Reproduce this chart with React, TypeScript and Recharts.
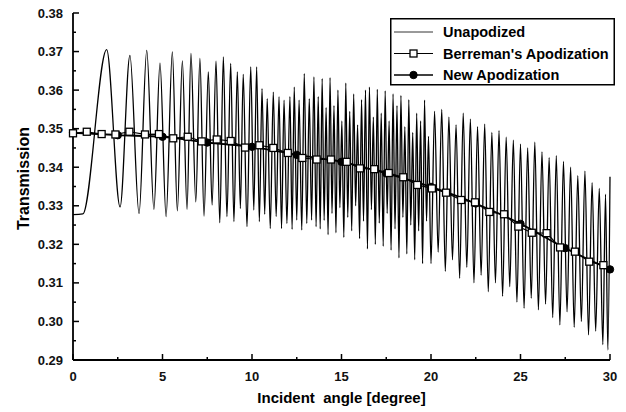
import { Label, Legend, Line, LineChart, XAxis, YAxis } from "recharts";

const FONT = '"Liberation Sans", Arial, sans-serif';

// unapodized transmission: [angle, value] at each fringe peak / trough
const unapSlowFringes: [number, number][] = [
  [0, 0.3277], [0.55, 0.3279], [1.88, 0.3705], [2.63, 0.3297], [3.18, 0.369],
  [3.69, 0.328], [4.12, 0.3703], [4.52, 0.3291], [4.86, 0.367], [5.2, 0.3272],
  [5.55, 0.3699], [5.83, 0.3287], [6.11, 0.3676], [6.37, 0.3291], [6.59, 0.3695],
  [6.86, 0.331], [7.09, 0.3682], [7.32, 0.3273], [7.56, 0.3647], [7.77, 0.3302],
  [7.99, 0.3675], [8.2, 0.3256], [8.4, 0.3686], [8.6, 0.3272], [8.81, 0.3669],
  [8.99, 0.3259], [9.18, 0.3647], [9.35, 0.3293], [9.51, 0.3641], [9.72, 0.3246],
  [9.93, 0.366], [10.1, 0.3289], [10.26, 0.366], [10.41, 0.3259], [10.56, 0.3604],
  [10.71, 0.3278], [10.85, 0.3578], [11.02, 0.3241], [11.19, 0.3595], [11.35, 0.3272],
  [11.51, 0.3583], [11.65, 0.3241], [11.79, 0.3574], [11.95, 0.3254], [12.12, 0.3583],
  [12.24, 0.3239], [12.36, 0.3608], [12.5, 0.3263], [12.63, 0.3574], [12.78, 0.3237],
  [12.92, 0.3643], [13.06, 0.3254], [13.2, 0.3578], [13.33, 0.3263], [13.46, 0.3634],
  [13.58, 0.3246], [13.7, 0.3583],
];

const unapDenseFringes: [number, number][] = [
  [13.81, 0.324], [13.92, 0.363], [14.03, 0.3262], [14.14, 0.3555], [14.25, 0.3225],
  [14.36, 0.3632], [14.47, 0.328], [14.58, 0.356], [14.69, 0.323], [14.8, 0.36],
  [14.91, 0.3295], [15.02, 0.352], [15.13, 0.3218], [15.24, 0.3618], [15.35, 0.327],
  [15.46, 0.3545], [15.57, 0.3235], [15.68, 0.359], [15.79, 0.33], [15.9, 0.351],
  [16.01, 0.3215], [16.12, 0.3575], [16.23, 0.326], [16.34, 0.36], [16.45, 0.3188],
  [16.56, 0.3608], [16.67, 0.329], [16.78, 0.353], [16.89, 0.32], [17.0, 0.3602],
  [17.11, 0.3255], [17.22, 0.354], [17.33, 0.3195], [17.44, 0.3598], [17.55, 0.328],
  [17.66, 0.352], [17.77, 0.3185], [17.88, 0.359], [17.99, 0.324], [18.1, 0.356],
  [18.21, 0.3165], [18.32, 0.3586], [18.43, 0.327], [18.54, 0.3505], [18.65, 0.3175],
  [18.76, 0.3575], [18.87, 0.325], [18.98, 0.349], [19.09, 0.316], [19.2, 0.354],
  [19.31, 0.3235], [19.42, 0.352], [19.53, 0.315], [19.64, 0.3574], [19.75, 0.326],
  [19.86, 0.348],
];

const unapTailFringes: [number, number][] = [
  [20.0, 0.315], [20.2, 0.3545], [20.4, 0.318], [20.6, 0.355], [20.8, 0.313],
  [21.0, 0.353], [21.2, 0.316], [21.4, 0.351], [21.6, 0.3112], [21.8, 0.354],
  [22.0, 0.314], [22.2, 0.3525], [22.4, 0.31], [22.6, 0.3505], [22.8, 0.312],
  [23.0, 0.3512], [23.2, 0.3077], [23.4, 0.349], [23.6, 0.31], [23.8, 0.3495],
  [24.0, 0.3065], [24.2, 0.3478], [24.4, 0.309], [24.6, 0.347], [24.8, 0.305],
  [25.0, 0.346], [25.2, 0.3034], [25.4, 0.345], [25.6, 0.306], [25.8, 0.3465],
  [26.0, 0.303], [26.2, 0.344], [26.4, 0.3045], [26.6, 0.3425], [26.8, 0.301],
  [27.0, 0.343], [27.2, 0.2991], [27.4, 0.3415], [27.6, 0.3025], [27.8, 0.34],
  [28.0, 0.2985], [28.2, 0.3378], [28.4, 0.3], [28.6, 0.339], [28.8, 0.2965],
  [29.0, 0.336], [29.2, 0.2975], [29.4, 0.3345], [29.6, 0.294], [29.75, 0.333],
  [29.88, 0.2926], [30.0, 0.3375],
];

const berreman: [number, number][] = [
  [0, 0.3488], [0.77, 0.3492], [1.6, 0.3486], [2.37, 0.3485], [3.15, 0.3492],
  [4.02, 0.3485], [4.8, 0.3486], [5.6, 0.3475], [6.41, 0.3479], [7.19, 0.3467],
  [8.03, 0.3472], [8.81, 0.3468], [9.61, 0.3451], [10.41, 0.3457], [11.19, 0.345],
  [12.0, 0.3437], [12.81, 0.3424], [13.61, 0.342], [14.41, 0.342], [15.29, 0.3414],
  [16.03, 0.3397], [16.83, 0.3395], [17.64, 0.3385], [18.45, 0.3374], [19.23, 0.3354],
  [20.05, 0.3345], [20.84, 0.3334], [21.68, 0.3315], [22.46, 0.3309], [23.26, 0.3284],
  [24.08, 0.3278], [24.88, 0.3246], [25.63, 0.323], [26.46, 0.3229], [27.21, 0.3192],
  [28.04, 0.3181], [28.84, 0.3155], [29.63, 0.3146],
];

const newApod: [number, number][] = [
  [0, 0.3489], [2.5, 0.3483], [5, 0.3479], [7.5, 0.3464], [10, 0.3453],
  [12.5, 0.3432], [15, 0.3414], [17.5, 0.3384], [20, 0.3349], [22.5, 0.3306],
  [25, 0.3253], [27.5, 0.319], [30, 0.3135],
];

const xTicks = [0, 2.5, 5, 7.5, 10, 12.5, 15, 17.5, 20, 22.5, 25, 27.5, 30];
const yTicks = [
  0.29, 0.295, 0.3, 0.305, 0.31, 0.315, 0.32, 0.325, 0.33, 0.335,
  0.34, 0.345, 0.35, 0.355, 0.36, 0.365, 0.37, 0.375, 0.38,
];

const toPoints = (rows: [number, number][]) =>
  rows.map(([angle, value]) => ({ angle, value }));

const unapData = toPoints([...unapSlowFringes, ...unapDenseFringes, ...unapTailFringes]);
const berremanData = toPoints(berreman);
const newData = toPoints(newApod);

function XTick({ x, y, payload }: any) {
  const v = payload.value;
  const major = v % 5 === 0;
  const axisY = y - 12;
  return (
    <g>
      <line x1={x} x2={x} y1={axisY} y2={axisY - (major ? 6 : 3)} stroke="#000" strokeWidth={1.5} />
      {major && (
        <text x={x} y={y} dy="0.71em" textAnchor="middle" fontSize={13} fontWeight="bold" fontFamily={FONT} fill="#111">
          {v}
        </text>
      )}
    </g>
  );
}

function YTick({ x, y, payload }: any) {
  const v = payload.value;
  const major = Math.round(v * 1000) % 10 === 0;
  const axisX = x + 10;
  return (
    <g>
      <line x1={axisX} x2={axisX + (major ? 6 : 3)} y1={y} y2={y} stroke="#000" strokeWidth={1.5} />
      {major && (
        <text x={x} y={y} dy="0.35em" textAnchor="end" fontSize={13} fontWeight="bold" fontFamily={FONT} fill="#111">
          {v.toFixed(2)}
        </text>
      )}
    </g>
  );
}

function SquareDot({ cx, cy }: any) {
  return <rect x={cx - 3.5} y={cy - 3.5} width={7} height={7} fill="#fff" stroke="#000" strokeWidth={1.3} />;
}

function CircleDot({ cx, cy }: any) {
  return <circle cx={cx} cy={cy} r={3.7} fill="#000" stroke="#000" />;
}

function LegendBox() {
  const rows = [
    { label: "Unapodized", marker: "none", width: 0.8 },
    { label: "Berreman's Apodization", marker: "square", width: 1.1 },
    { label: "New Apodization", marker: "circle", width: 1.6 },
  ];
  return (
    <svg width={225} height={68} style={{ display: "block" }}>
      <rect x={0.75} y={0.75} width={223.5} height={66} fill="#fff" stroke="#000" strokeWidth={1.5} />
      {rows.map((r, i) => {
        const cy = 14 + i * 21.5;
        return (
          <g key={r.label}>
            <line x1={4} x2={43} y1={cy} y2={cy} stroke="#000" strokeWidth={r.width} />
            {r.marker === "square" && <SquareDot cx={23.5} cy={cy} />}
            {r.marker === "circle" && <CircleDot cx={23.5} cy={cy} />}
            <text x={53} y={cy} dy="0.36em" fontSize={14.5} fontWeight="bold" fontFamily={FONT} fill="#000">
              {r.label}
            </text>
          </g>
        );
      })}
    </svg>
  );
}

export default function App() {
  return (
    <div style={{ position: "absolute", left: 0, top: 0, background: "#fff" }}>
      <LineChart
        width={626}
        height={412}
        margin={{ top: 13, right: 16, bottom: 0, left: 0 }}
        style={{ fontFamily: FONT }}
      >
        <XAxis
          dataKey="angle"
          type="number"
          domain={[0, 30]}
          ticks={xTicks}
          interval={0}
          height={52}
          tickSize={0}
          tickMargin={12}
          tickLine={false}
          tick={<XTick />}
          axisLine={{ stroke: "#000", strokeWidth: 1.8 }}
          allowDuplicatedCategory={false}
        >
          <Label
            content={({ viewBox }: any) => (
              <text
                x={viewBox.x + viewBox.width / 2}
                y={viewBox.y + 43}
                textAnchor="middle"
                fontSize={15}
                fontWeight="bold"
                fontFamily={FONT}
                style={{ whiteSpace: "pre" }}
              >
                {"Incident  angle [degree]"}
              </text>
            )}
          />
        </XAxis>
        <YAxis
          type="number"
          domain={[0.29, 0.38]}
          ticks={yTicks}
          interval={0}
          width={73}
          tickSize={0}
          tickMargin={10}
          tickLine={false}
          tick={<YTick />}
          axisLine={{ stroke: "#000", strokeWidth: 1.8 }}
        >
          <Label
            content={({ viewBox }: any) => {
              const cx = 23.5;
              const cy = viewBox.y + viewBox.height / 2 - 8;
              return (
                <text
                  x={cx}
                  y={cy}
                  transform={`rotate(-90 ${cx} ${cy})`}
                  textAnchor="middle"
                  dominantBaseline="central"
                  fontSize={16}
                  fontWeight="bold"
                  fontFamily={FONT}
                >
                  Transmission
                </text>
              );
            }}
          />
        </YAxis>
        <Legend
          content={() => <LegendBox />}
          layout="vertical"
          align="center"
          verticalAlign="middle"
          wrapperStyle={{ left: 390, top: 18, width: 225, height: 68 }}
        />
        <Line
          data={unapData}
          dataKey="value"
          type="monotone"
          stroke="#000"
          strokeWidth={1.3}
          dot={false}
          activeDot={false}
          isAnimationActive={false}
        />
        <Line
          data={newData}
          dataKey="value"
          type="monotone"
          stroke="#000"
          strokeWidth={1.8}
          dot={<CircleDot />}
          activeDot={false}
          isAnimationActive={false}
        />
        <Line
          data={berremanData}
          dataKey="value"
          type="linear"
          stroke="#000"
          strokeWidth={1.2}
          dot={<SquareDot />}
          activeDot={false}
          isAnimationActive={false}
        />
      </LineChart>
    </div>
  );
}
